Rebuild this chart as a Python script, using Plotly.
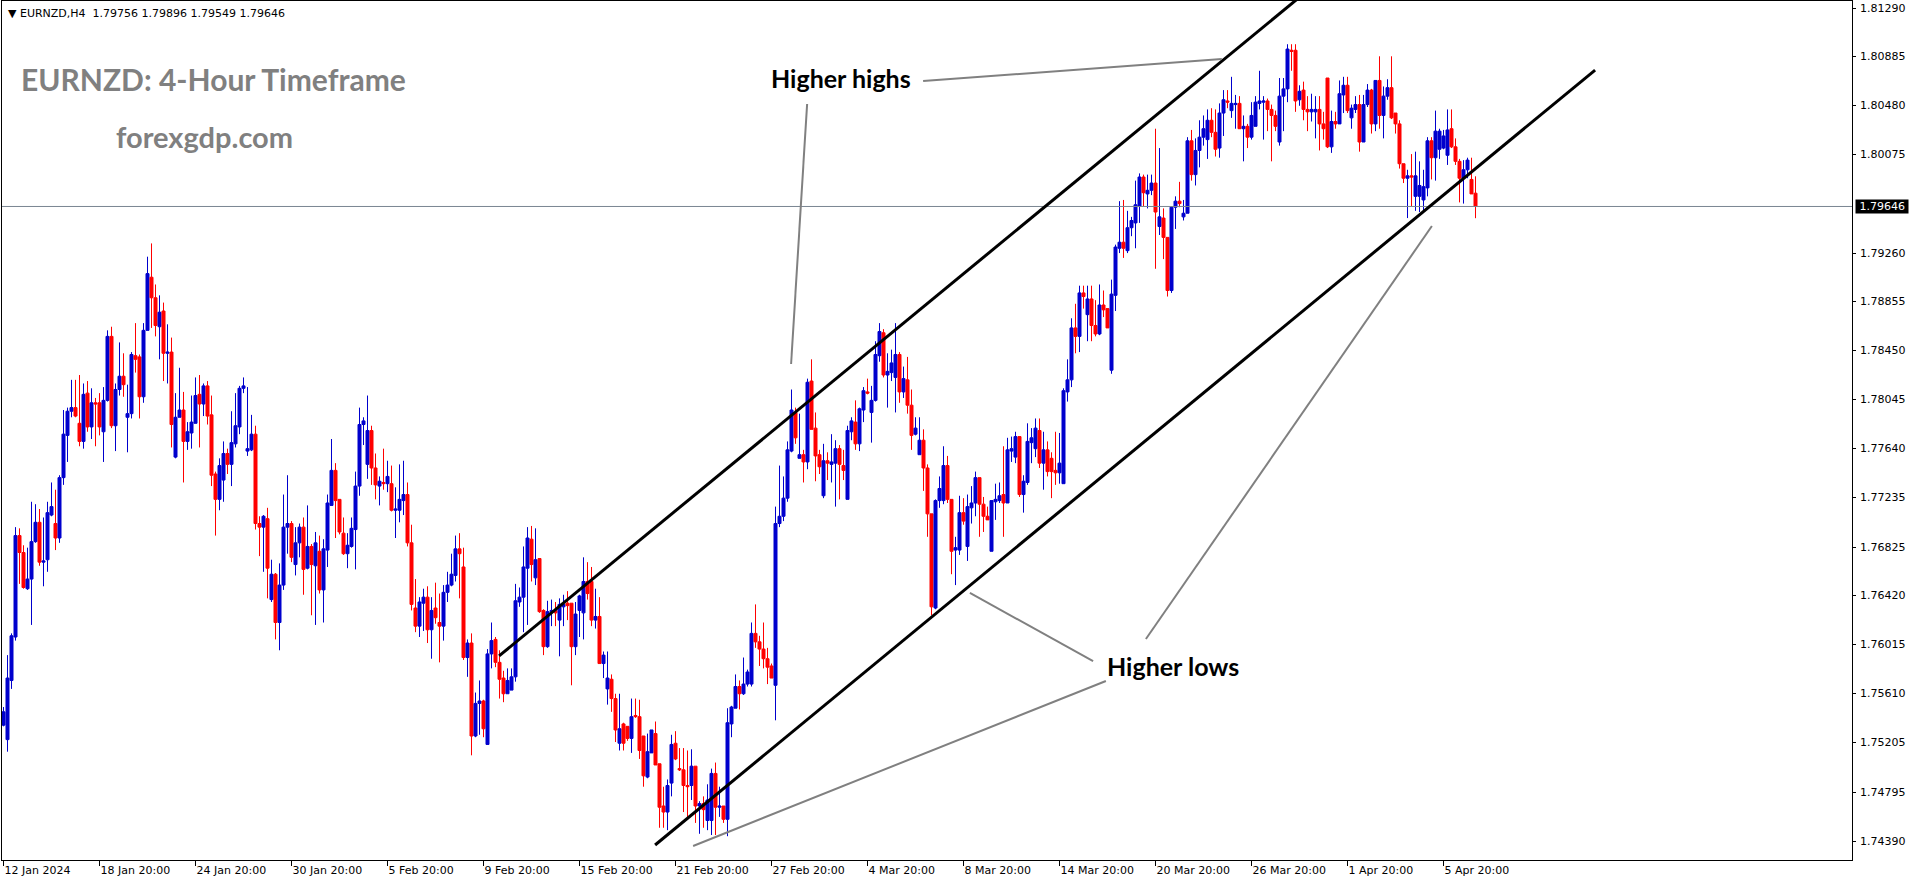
import pandas as pd
import plotly.graph_objects as go

# ---------------- data (prices in pips above 1.70000, 1 pip = 0.0001) ----------------
BASE = 1.70
PIP = 0.0001

open_pips = [
    535, 523, 572, 608, 692, 678, 648, 656, 687, 703,
    670, 672, 709, 702, 690, 740, 775, 795, 798, 785,
    770, 810, 782, 802, 802, 778, 804, 857, 783, 813,
    824, 790, 793, 841, 840, 807, 862, 906, 889, 865,
    878, 843, 844, 757, 790, 796, 770, 777, 785, 809,
    801, 816, 792, 743, 722, 738, 760, 751, 768, 782,
    814, 762, 763, 776, 702, 699, 706, 639, 660, 620,
    651, 699, 702, 668, 686, 699, 665, 683, 667, 679,
    647, 680, 717, 746, 722, 694, 677, 683, 697, 733,
    784, 751, 779, 748, 733, 736, 735, 735, 713, 713,
    721, 726, 686, 632, 617, 636, 641, 614, 632, 620,
    617, 645, 651, 659, 681, 666, 591, 603, 526, 553,
    555, 519, 594, 606, 587, 574, 561, 564, 575, 637,
    641, 665, 689, 657, 673, 630, 600, 629, 630, 622,
    633, 636, 636, 600, 630, 628, 654, 654, 622, 625,
    586, 565, 573, 557, 520, 536, 534, 524, 543, 542,
    526, 492, 512, 528, 503, 468, 463, 487, 520, 499,
    498, 485, 485, 501, 468, 470, 456, 456, 495, 467,
    468, 457, 536, 549, 567, 561, 569, 569, 611, 604,
    598, 590, 584, 568, 702, 708, 723, 762, 794, 756,
    759, 753, 820, 781, 759, 725, 754, 751, 752, 764,
    750, 722, 778, 786, 768, 796, 811, 794, 804, 841,
    860, 825, 827, 823, 842, 811, 821, 800, 776, 759,
    771, 748, 710, 632, 721, 721, 750, 722, 680, 680,
    711, 683, 715, 719, 740, 718, 708, 679, 720, 721,
    726, 719, 762, 757, 774, 726, 736, 769, 764, 779,
    752, 763, 756, 746, 744, 735, 811, 821, 864, 857,
    893, 875, 888, 866, 859, 883, 880, 829, 891, 930,
    935, 928, 947, 951, 965, 989, 975, 978, 984, 948,
    955, 939, 895, 964, 969, 956, 959, 1019, 991, 1011,
    1022, 1020, 1036, 1026, 1013, 1042, 1052, 1044, 1049, 1050,
    1029, 1031, 1022, 1031, 1050, 1051, 1052, 1045, 1040, 1018,
    1056, 1062, 1094, 1094, 1053, 1061, 1045, 1043, 1043, 1045,
    1033, 1071, 1014, 1035, 1033, 1057, 1065, 1038, 1045, 1049,
    1018, 1049, 1061, 1033, 1069, 1040, 1056, 1063, 1042, 1033,
    1000, 988, 990, 973, 973, 970, 980, 1019, 1005, 1012,
    1013, 1007, 1029, 1014, 1002, 988, 995, 987, 975.6,
]

high_pips = [
    550, 593, 611, 699, 698, 684, 682, 720, 718, 714,
    707, 720, 736, 730, 742, 796, 798, 821, 821, 825,
    818, 820, 814, 806, 810, 815, 862, 865, 818, 852,
    843, 817, 844, 868, 842, 868, 923, 934, 900, 891,
    885, 867, 856, 810, 831, 811, 786, 808, 823, 825,
    818, 820, 808, 745, 756, 770, 764, 795, 810, 816,
    823, 815, 792, 783, 708, 709, 715, 672, 661, 669,
    726, 742, 704, 699, 702, 707, 717, 685, 695, 692,
    689, 726, 772, 752, 722, 707, 694, 707, 745, 798,
    790, 808, 783, 760, 741, 764, 754, 750, 732, 751,
    754, 736, 701, 656, 641, 648, 650, 641, 653, 644,
    651, 662, 677, 692, 694, 682, 606, 611, 562, 572,
    556, 598, 620, 608, 597, 580, 582, 582, 652, 649,
    683, 699, 700, 698, 673, 631, 638, 639, 637, 640,
    643, 646, 636, 637, 643, 674, 670, 666, 648, 641,
    596, 596, 577, 561, 561, 537, 534, 557, 557, 556,
    526, 528, 531, 538, 503, 484, 490, 527, 530, 516,
    516, 514, 515, 501, 472, 476, 486, 499, 504, 484,
    468, 549, 551, 577, 572, 591, 581, 620, 635, 609,
    620, 599, 586, 716, 750, 741, 770, 813, 798, 793,
    763, 822, 838, 794, 763, 768, 761, 776, 771, 767,
    763, 783, 790, 804, 798, 815, 822, 816, 853, 868,
    863, 843, 846, 868, 844, 832, 840, 813, 790, 790,
    780, 751, 710, 722, 741, 766, 758, 722, 691, 725,
    723, 726, 733, 745, 740, 724, 716, 721, 735, 736,
    766, 773, 774, 778, 774, 742, 785, 781, 789, 789,
    778, 770, 761, 778, 777, 814, 838, 872, 884, 899,
    899, 899, 899, 887, 900, 895, 880, 904, 933, 969,
    970, 961, 956, 986, 992, 991, 991, 991, 1029, 1013,
    963, 939, 965, 973, 985, 970, 1022, 1028, 1021, 1036,
    1040, 1045, 1046, 1045, 1050, 1061, 1061, 1072, 1057, 1056,
    1040, 1033, 1051, 1056, 1077, 1056, 1054, 1049, 1044, 1071,
    1071, 1099, 1099, 1099, 1065, 1068, 1056, 1058, 1056, 1056,
    1043, 1071, 1044, 1043, 1069, 1072, 1072, 1049, 1056, 1057,
    1057, 1066, 1062, 1069, 1089, 1064, 1070, 1089, 1042, 1036,
    1000, 995, 1008, 1010, 1002, 995, 1022, 1022, 1044, 1029,
    1028, 1045, 1045, 1021, 1004, 1003, 1005, 1005, 989.6,
]

low_pips = [
    534, 513, 565, 605, 652, 648, 647, 618, 686, 667,
    650, 662, 708, 680, 686, 734, 753, 790, 790, 766,
    764, 778, 772, 766, 775, 753, 803, 781, 762, 808,
    807, 761, 789, 827, 789, 802, 862, 864, 857, 838,
    820, 818, 765, 756, 790, 736, 763, 764, 785, 765,
    791, 784, 733, 692, 713, 720, 743, 733, 765, 776,
    810, 758, 762, 697, 675, 662, 640, 637, 606, 597,
    647, 677, 670, 659, 674, 643, 664, 626, 618, 644,
    620, 666, 717, 690, 693, 676, 665, 682, 664, 725,
    767, 739, 734, 722, 717, 730, 728, 712, 690, 703,
    709, 683, 630, 612, 608, 613, 603, 590, 619, 587,
    605, 637, 650, 654, 640, 589, 575, 510, 525, 527,
    525, 519, 582, 583, 557, 554, 561, 564, 571, 633,
    612, 618, 654, 651, 628, 593, 599, 617, 617, 592,
    617, 622, 568, 593, 608, 606, 639, 617, 615, 586,
    574, 552, 546, 521, 514, 514, 522, 512, 541, 507,
    484, 491, 512, 502, 450, 450, 448, 476, 506, 497,
    463, 459, 473, 454, 445, 450, 448, 444, 444, 459,
    454, 443, 525, 549, 548, 560, 567, 567, 599, 584,
    582, 569, 574, 539, 699, 704, 720, 761, 768, 756,
    736, 747, 780, 737, 743, 723, 738, 736, 716, 722,
    738, 722, 771, 763, 762, 786, 809, 769, 803, 836,
    823, 798, 820, 794, 802, 806, 793, 763, 775, 759,
    729, 691, 626, 631, 715, 718, 719, 660, 651, 676,
    701, 671, 702, 708, 691, 695, 705, 679, 705, 719,
    691, 719, 753, 752, 724, 711, 734, 752, 757, 748,
    730, 741, 723, 734, 735, 735, 803, 815, 843, 844,
    880, 853, 853, 857, 858, 873, 864, 826, 878, 926,
    922, 926, 940, 930, 951, 965, 963, 974, 913, 941,
    921, 890, 893, 946, 964, 953, 959, 986, 982, 997,
    1015, 1004, 1022, 1006, 1005, 1023, 1046, 1038, 1029, 1029,
    1002, 1013, 1020, 1031, 1045, 1020, 1027, 1002, 1027, 1015,
    1027, 1051, 1077, 1043, 1048, 1036, 1027, 1035, 1021, 1011,
    1020, 1013, 1009, 1029, 1033, 1042, 1042, 1029, 1042, 1010,
    1018, 1047, 1025, 1027, 1029, 1021, 1053, 1037, 1025, 996,
    984, 955, 965, 961, 960, 961, 973, 987, 986, 1004,
    1012, 999, 1013, 999, 968, 967, 988, 975, 954.9,
]

close_pips = [
    546, 574, 609, 692, 678, 649, 656, 687, 703, 670,
    671, 711, 716, 690, 740, 776, 795, 798, 791, 770,
    809, 782, 802, 801, 782, 804, 857, 783, 813, 824,
    817, 793, 842, 838, 807, 862, 909, 889, 866, 877,
    843, 844, 784, 790, 796, 770, 778, 786, 808, 801,
    816, 791, 742, 722, 750, 760, 751, 769, 783, 814,
    816, 764, 776, 702, 699, 708, 665, 660, 620, 651,
    699, 702, 674, 686, 699, 664, 683, 668, 686, 647,
    681, 719, 746, 721, 695, 677, 684, 698, 733, 784,
    787, 779, 748, 734, 737, 735, 741, 713, 714, 722,
    726, 686, 635, 617, 637, 641, 614, 630, 624, 617,
    645, 651, 660, 681, 677, 591, 603, 526, 553, 555,
    532, 594, 605, 587, 573, 561, 572, 575, 638, 641,
    666, 690, 668, 672, 629, 600, 629, 630, 628, 635,
    635, 634, 600, 627, 642, 654, 644, 622, 625, 586,
    593, 574, 557, 531, 532, 520, 524, 542, 542, 514,
    493, 513, 531, 502, 467, 463, 485, 519, 507, 498,
    485, 484, 501, 468, 470, 465, 473, 495, 467, 468,
    457, 537, 550, 567, 561, 569, 579, 611, 604, 598,
    590, 583, 574, 702, 708, 723, 763, 796, 773, 759,
    753, 819, 780, 758, 749, 754, 752, 753, 764, 751,
    746, 779, 787, 768, 797, 812, 810, 804, 842, 861,
    825, 828, 835, 842, 811, 822, 800, 775, 781, 771,
    748, 710, 633, 721, 731, 750, 722, 679, 682, 711,
    704, 716, 719, 740, 718, 708, 705, 721, 722, 725,
    719, 763, 764, 774, 726, 737, 770, 773, 781, 752,
    763, 745, 745, 744, 752, 812, 821, 864, 857, 893,
    890, 888, 866, 859, 883, 879, 864, 892, 931, 935,
    930, 947, 953, 966, 989, 976, 978, 984, 960, 956,
    939, 895, 964, 969, 967, 959, 1019, 991, 1011, 1022,
    1029, 1036, 1026, 1012, 1042, 1053, 1051, 1050, 1050, 1029,
    1031, 1022, 1040, 1051, 1052, 1052, 1045, 1040, 1031, 1056,
    1062, 1095, 1093, 1052, 1060, 1045, 1043, 1045, 1045, 1033,
    1029, 1014, 1035, 1033, 1058, 1065, 1044, 1046, 1049, 1018,
    1049, 1061, 1033, 1069, 1040, 1056, 1063, 1038, 1033, 1000,
    988, 990, 989, 990, 982, 981, 1019, 1005, 1027, 1027,
    1023, 1028, 1014, 1002, 988, 995, 1003, 975, 964.6,
]

first_bar_time = "2024-01-12 20:00"

tick_times = [
    "2024-01-12 20:00", "2024-01-18 20:00", "2024-01-24 20:00", "2024-01-30 20:00",
    "2024-02-05 20:00", "2024-02-09 20:00", "2024-02-15 20:00", "2024-02-21 20:00",
    "2024-02-27 20:00", "2024-03-04 20:00", "2024-03-08 20:00", "2024-03-14 20:00",
    "2024-03-20 20:00", "2024-03-26 20:00", "2024-04-01 20:00", "2024-04-05 20:00",
]
tick_labels = [
    "12 Jan 2024", "18 Jan 20:00", "24 Jan 20:00", "30 Jan 20:00",
    "5 Feb 20:00", "9 Feb 20:00", "15 Feb 20:00", "21 Feb 20:00",
    "27 Feb 20:00", "4 Mar 20:00", "8 Mar 20:00", "14 Mar 20:00",
    "20 Mar 20:00", "26 Mar 20:00", "1 Apr 20:00", "5 Apr 20:00",
]

price_ticks = [
    1.81290, 1.80885, 1.80480, 1.80075, 1.79260, 1.78855, 1.78450, 1.78045,
    1.77640, 1.77235, 1.76825, 1.76420, 1.76015, 1.75610, 1.75205, 1.74795, 1.74390,
]

# channel lines (bar index, price)
upper_channel_bars = [123.9, 330.0]
upper_channel_prices = [1.75923, 1.81543]
lower_channel_bars = [162.9, 397.9]
lower_channel_prices = [1.74357, 1.80776]

# grey pointer lines (bar index, price)
higher_highs_pointers = [
    ([229.9, 304.6], [1.80685, 1.80868]),
    ([200.9, 196.9], [1.80495, 1.78341]),
]
higher_lows_pointers = [
    ([241.6, 272.4], [1.76445, 1.75881]),
    ([172.4, 275.6], [1.74349, 1.75716]),
    ([285.6, 357.1], [1.76063, 1.79484]),
]
higher_highs_label_pos = (191.3, 1.80710)
higher_lows_label_pos = (275.4, 1.75840)

# ---------------- build ----------------
n_bars = len(close_pips)
times = []
t = pd.Timestamp(first_bar_time)
while len(times) < n_bars:
    if t.weekday() < 5:
        times.append(t)
    t += pd.Timedelta(hours=4)
bar_index = list(range(n_bars))
tick_positions = [times.index(pd.Timestamp(s)) for s in tick_times]

to_price = lambda arr: [round(BASE + v * PIP, 5) for v in arr]
o, h, l, c = to_price(open_pips), to_price(high_pips), to_price(low_pips), to_price(close_pips)

BLUE = "#0000cd"
RED = "#ff0000"
AXIS_FONT = dict(family="DejaVu Sans", size=11, color="black")

fig = go.Figure()
fig.add_trace(go.Candlestick(
    x=bar_index, open=o, high=h, low=l, close=c,
    increasing=dict(line=dict(color=BLUE, width=1), fillcolor=BLUE),
    decreasing=dict(line=dict(color=RED, width=1), fillcolor=RED),
    whiskerwidth=0, showlegend=False,
    text=[tm.strftime("%d %b %H:%M") for tm in times], hoverinfo="text+y",
))

# current price line
last_close = c[-1]
fig.add_trace(go.Scatter(x=[-5, 470], y=[last_close, last_close], mode="lines",
                         line=dict(color="#7a8591", width=1), hoverinfo="skip", showlegend=False))

# channel lines
for bx, py in [(upper_channel_bars, upper_channel_prices), (lower_channel_bars, lower_channel_prices)]:
    fig.add_trace(go.Scatter(x=bx, y=py, mode="lines", line=dict(color="black", width=3),
                             hoverinfo="skip", showlegend=False))

# pointer lines
for bx, py in higher_highs_pointers + higher_lows_pointers:
    fig.add_trace(go.Scatter(x=bx, y=py, mode="lines", line=dict(color="#808080", width=2),
                             hoverinfo="skip", showlegend=False))

W, H = 1916, 884
ML, MR, MT, MB = 2, 64, 1, 24
plot_w = W - ML - MR
plot_h = H - MT - MB

def px_x(x):
    return (x - ML) / plot_w

def px_y(y):
    return 1 - (y - MT) / plot_h

annotations = []
# header
annotations.append(dict(
    xref="paper", yref="paper", x=px_x(6), y=px_y(13), xanchor="left", yanchor="middle",
    text="\u25bc EURNZD,H4\u00a0\u00a0" + " ".join(f"{v:.5f}" for v in (o[-1], h[-1], l[-1], c[-1])),
    showarrow=False, font=AXIS_FONT))
# title + website
annotations.append(dict(
    xref="paper", yref="paper", x=px_x(19), y=px_y(79), xanchor="left", yanchor="middle",
    text="<b>EURNZD: 4-Hour Timeframe</b>", showarrow=False,
    font=dict(family="Lato", size=30, color="#808080")))
annotations.append(dict(
    xref="paper", yref="paper", x=px_x(114), y=px_y(137), xanchor="left", yanchor="middle",
    text="<b>forexgdp.com</b>", showarrow=False,
    font=dict(family="Lato", size=29, color="#808080")))
# analysis labels
annotations.append(dict(
    xref="x", yref="y", x=higher_highs_label_pos[0], y=higher_highs_label_pos[1],
    xanchor="left", yanchor="middle", text="<b>Higher highs</b>", showarrow=False,
    font=dict(family="Lato", size=25, color="black")))
annotations.append(dict(
    xref="x", yref="y", x=higher_lows_label_pos[0], y=higher_lows_label_pos[1],
    xanchor="left", yanchor="middle", text="<b>Higher lows</b>", showarrow=False,
    font=dict(family="Lato", size=25, color="black")))
# price-scale labels
for p in price_ticks:
    annotations.append(dict(
        xref="paper", yref="y", x=1, y=p, xanchor="left", yanchor="middle", xshift=6,
        text=f"{p:.5f}", showarrow=False, font=AXIS_FONT))
# current price tag
annotations.append(dict(
    xref="paper", yref="y", x=1, y=last_close, xanchor="left", yanchor="middle", xshift=3,
    text=f"\u00a0{last_close:.5f}\u00a0", showarrow=False, bgcolor="black", borderpad=0,
    font=dict(family="DejaVu Sans", size=11, color="white")))

fig.update_layout(
    width=W, height=H,
    margin=dict(l=ML, r=MR, t=MT, b=MB, autoexpand=False),
    paper_bgcolor="white", plot_bgcolor="white",
    showlegend=False,
    boxgap=0.25, boxgroupgap=0.0,
    annotations=annotations,
    xaxis=dict(
        range=[-0.375, 462.125], rangeslider=dict(visible=False),
        showgrid=False, zeroline=False,
        showline=True, linecolor="black", linewidth=1, mirror=True,
        ticks="outside", ticklen=5, tickcolor="black", tickwidth=1,
        tickvals=tick_positions, ticktext=tick_labels,
        ticklabelposition="outside right",
        tickfont=AXIS_FONT,
    ),
    yaxis=dict(
        side="right", range=[1.742329, 1.813480],
        showgrid=False, zeroline=False,
        showline=True, linecolor="black", linewidth=1, mirror=True,
        ticks="outside", ticklen=3, tickcolor="black", tickwidth=1,
        tickvals=price_ticks, showticklabels=False,
    ),
)

fig.write_html(
    "out.html",
    config={"displayModeBar": False},
    post_script="document.body.style.margin='0px';document.body.style.padding='0px';"
                "document.body.style.overflow='hidden';",
)
